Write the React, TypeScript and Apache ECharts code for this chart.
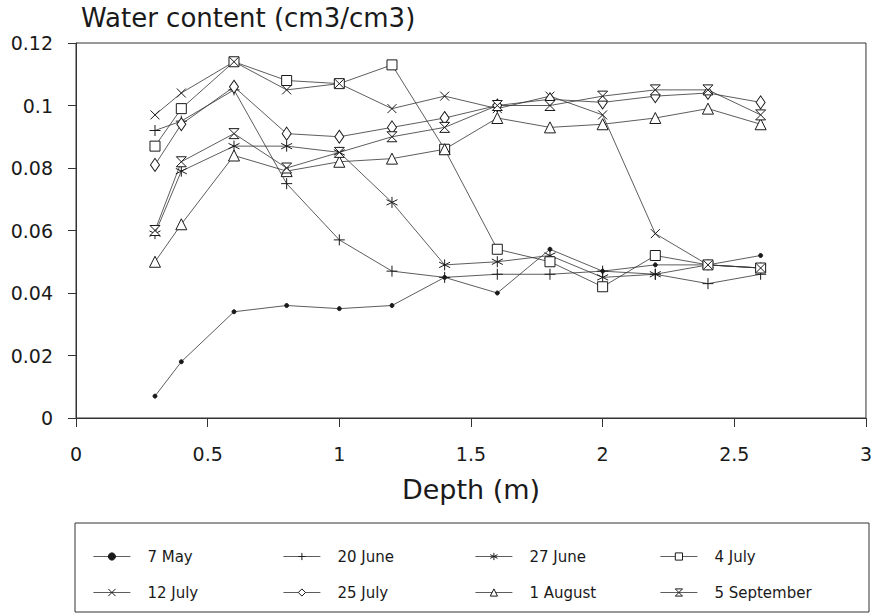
import React, { useEffect, useRef } from "react";
import * as echarts from "echarts";

const depths = [0.3, 0.4, 0.6, 0.8, 1.0, 1.2, 1.4, 1.6, 1.8, 2.0, 2.2, 2.4, 2.6];

const may7 = [0.007, 0.018, 0.034, 0.036, 0.035, 0.036, 0.045, 0.040, 0.054, 0.047, 0.049, 0.049, 0.052];
const june20 = [0.092, 0.095, 0.105, 0.075, 0.057, 0.047, 0.045, 0.046, 0.046, 0.047, 0.046, 0.043, 0.046];
const june27 = [0.059, 0.079, 0.087, 0.087, 0.085, 0.069, 0.049, 0.050, 0.052, 0.045, 0.046, 0.049, 0.048];
const july4 = [0.087, 0.099, 0.114, 0.108, 0.107, 0.113, 0.086, 0.054, 0.050, 0.042, 0.052, 0.049, 0.048];
const july12 = [0.097, 0.104, 0.114, 0.105, 0.107, 0.099, 0.103, 0.099, 0.103, 0.097, 0.059, 0.049, 0.048];
const july25 = [0.081, 0.094, 0.106, 0.091, 0.090, 0.093, 0.096, 0.100, 0.102, 0.101, 0.103, 0.104, 0.101];
const aug1 = [0.050, 0.062, 0.084, 0.079, 0.082, 0.083, 0.086, 0.096, 0.093, 0.094, 0.096, 0.099, 0.094];
const sep5 = [0.060, 0.082, 0.091, 0.080, 0.085, 0.090, 0.093, 0.100, 0.100, 0.103, 0.105, 0.105, 0.097];

const seriesNames = ["7 May", "20 June", "27 June", "4 July", "12 July", "25 July", "1 August", "5 September"];
const seriesValues = [may7, june20, june27, july4, july12, july25, aug1, sep5];

const xTicks = [0, 0.5, 1, 1.5, 2, 2.5, 3];
const yTicks = [0, 0.02, 0.04, 0.06, 0.08, 0.1, 0.12];

const INK = "#1a1a1a";
const LINE = "#333";
const FONT = "DejaVu Sans";

const symbols: any[] = [
  { symbol: "circle", size: 4, fill: INK },
  { symbol: "path://M5,0L5,10M0,5L10,5", size: 11, fill: INK },
  { symbol: "path://M5,0L5,10M0.7,2.5L9.3,7.5M0.7,7.5L9.3,2.5", size: 11, fill: INK },
  { symbol: "rect", size: 10, fill: "#fff" },
  { symbol: "path://M0,0L10,10M0,10L10,0", size: 9, fill: INK },
  { symbol: "diamond", size: [9, 13], fill: "#fff" },
  { symbol: "triangle", size: 11, fill: "#fff" },
  { symbol: "path://M0,0L10,0L0,10L10,10Z", size: 10, fill: "#fff" },
];

export default function App() {
  const ref = useRef<HTMLDivElement>(null);
  useEffect(() => {
    if (!ref.current) return;
    const chart = echarts.init(ref.current, undefined, { renderer: "svg" });
    const series = seriesNames.map((name, i) => ({
      name,
      type: "line",
      data: depths.map((d, j) => [d, seriesValues[i][j]]),
      symbol: symbols[i].symbol,
      symbolSize: symbols[i].size,
      showAllSymbol: true,
      lineStyle: { color: LINE, width: 0.8 },
      itemStyle: { color: symbols[i].fill, borderColor: INK, borderWidth: 1 },
      emphasis: { disabled: true },
    }));
    const cols = [
      ["7 May", "12 July"],
      ["20 June", "25 July"],
      ["27 June", "1 August"],
      ["4 July", "5 September"],
    ];
    const colLeft = [88, 278, 470, 655];
    const legends = cols.map((data, i) => ({
      data,
      orient: "vertical",
      left: colLeft[i],
      top: 544,
      itemWidth: 37,
      itemHeight: 9,
      itemGap: 21,
      lineStyle: { width: 0.8, color: LINE },
      itemStyle: { borderWidth: 1 },
      textStyle: { fontFamily: FONT, fontSize: 15, color: INK, padding: [0, 0, 0, 12] },
      selectedMode: false,
    }));
    chart.setOption({
      animation: false,
      backgroundColor: "#fff",
      title: {
        text: "Water content (cm3/cm3)",
        left: 76,
        top: 0,
        textStyle: { fontFamily: FONT, fontSize: 26, fontWeight: "normal", color: INK },
      },
      grid: {
        left: 76,
        right: 4,
        top: 43,
        bottom: 196,
        show: true,
        borderColor: "#333",
        borderWidth: 1,
      },
      xAxis: {
        type: "value",
        min: xTicks[0],
        max: xTicks[xTicks.length - 1],
        interval: 0.5,
        name: "Depth (m)",
        nameLocation: "middle",
        nameGap: 58,
        nameTextStyle: { fontFamily: FONT, fontSize: 27, color: INK },
        axisLine: { show: true, lineStyle: { color: "#333", width: 1 } },
        axisTick: { show: true, inside: false, length: 9, lineStyle: { color: "#333" } },
        axisLabel: { fontFamily: FONT, fontSize: 19, color: INK, margin: 26, showMaxLabel: true },
        splitLine: { show: false },
      },
      yAxis: {
        type: "value",
        min: yTicks[0],
        max: yTicks[yTicks.length - 1],
        interval: 0.02,
        axisLine: { show: true, lineStyle: { color: "#333", width: 1 } },
        axisTick: { show: true, inside: false, length: 8, lineStyle: { color: "#333" } },
        axisLabel: { fontFamily: FONT, fontSize: 19, color: INK, margin: 23 },
        splitLine: { show: false },
      },
      legend: legends,
      graphic: [
        {
          type: "rect",
          shape: { x: 75, y: 523, width: 794, height: 89 },
          style: { fill: "none", stroke: "#333", lineWidth: 1 },
          silent: true,
        },
      ],
      series,
    });
    return () => chart.dispose();
  }, []);
  return <div ref={ref} style={{ width: 875, height: 614, position: "absolute", left: 0, top: 0 }} />;
}
